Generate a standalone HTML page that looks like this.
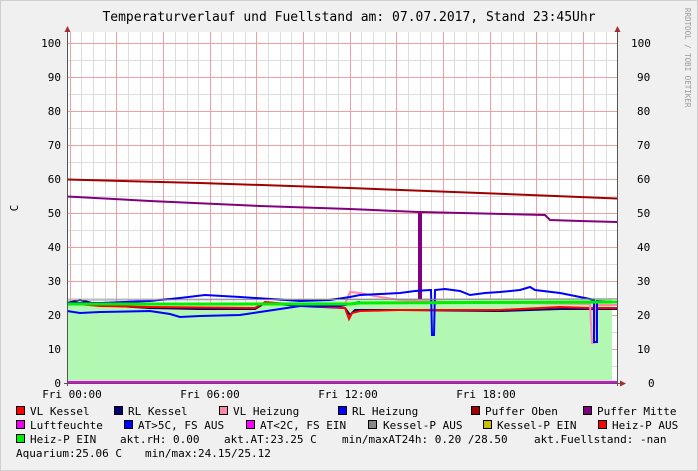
<!DOCTYPE html>
<html><head><meta charset="utf-8"><style>
body{margin:0;width:698px;height:471px;overflow:hidden;background:#f0f0f0;}
svg{display:block;font-family:"DejaVu Sans Mono","Liberation Mono",monospace;}
text{white-space:pre;}
</style></head><body>
<svg width="698" height="471" viewBox="0 0 698 471" xmlns="http://www.w3.org/2000/svg" xml:space="preserve">
<rect x="0" y="0" width="698" height="471" fill="#f0f0f0"/>
<rect x="0.5" y="0.5" width="697" height="470" fill="none" stroke="#cfcfcf"/>
<rect x="67" y="32" width="550" height="351" fill="#ffffff"/>
<text x="349" y="21" font-size="13" text-anchor="middle" fill="#000">Temperaturverlauf und Fuellstand am: 07.07.2017, Stand 23:45Uhr</text>
<text transform="translate(685,8) rotate(90)" font-size="7.5" fill="#999">RRDTOOL / TOBI OETIKER</text>
<text transform="translate(18,208) rotate(-90)" font-size="11" text-anchor="middle">C</text>
<g stroke="#ddd" stroke-width="1">
<path d="M81.5 32V383M93.5 32V383M105.5 32V383M128.5 32V383M140.5 32V383M152.5 32V383M175.5 32V383M187.5 32V383M198.5 32V383M221.5 32V383M233.5 32V383M245.5 32V383M268.5 32V383M280.5 32V383M291.5 32V383M314.5 32V383M326.5 32V383M338.5 32V383M361.5 32V383M373.5 32V383M385.5 32V383M408.5 32V383M420.5 32V383M431.5 32V383M454.5 32V383M466.5 32V383M478.5 32V383M501.5 32V383M513.5 32V383M524.5 32V383M547.5 32V383M559.5 32V383M571.5 32V383M594.5 32V383M606.5 32V383"/>
<path d="M67 366.5H617M67 332.5H617M67 298.5H617M67 264.5H617M67 230.5H617M67 196.5H617M67 162.5H617M67 128.5H617M67 94.5H617M67 60.5H617"/>
</g>
<g stroke="#f0a0a0" stroke-width="1">
<path d="M70.5 32V383M116.5 32V383M163.5 32V383M210.5 32V383M256.5 32V383M303.5 32V383M350.5 32V383M396.5 32V383M443.5 32V383M490.5 32V383M536.5 32V383M583.5 32V383"/>
<path d="M67 349.5H617M67 315.5H617M67 281.5H617M67 247.5H617M67 213.5H617M67 179.5H617M67 145.5H617M67 111.5H617M67 77.5H617M67 43.5H617"/>
</g>
<polygon points="67,303 300,302 360,300 612,298 612,383 67,383" fill="#b2f8b2"/>
<polyline fill="none" stroke="#a00000" stroke-width="2" points="67,179.5 200,183 350,188 480,193 617,198.5"/>
<polyline fill="none" stroke="#800080" stroke-width="2" points="67,196.5 150,201 260,206 350,209 418,212 419,212 419,298 421,298 421,212 545,215 550,220 580,221 617,222"/>
<polyline fill="none" stroke="#000070" stroke-width="2" points="67,303 80,300 100,305 150,308 200,309 255,309 265,303 300,306 345,308 350,315 355,310 400,310 500,311 560,309 617,309"/>
<polyline fill="none" stroke="#ff0000" stroke-width="2" points="67,303 100,306 150,307 255,308 265,302 300,305 345,308 349,319 352,313 360,311 400,310 500,310 560,307 590,308 617,308"/>
<polyline fill="none" stroke="#ff88aa" stroke-width="2" points="345,304 350,292 360,293 380,297 400,300 450,302 590,304 592,343 594,343 596,305 617,305"/>
<polyline fill="none" stroke="#0000ff" stroke-width="2" points="67,311 80,313 100,312 150,311 170,314 180,317 200,316 240,315 260,312 280,309 300,306 340,306 360,302"/>
<polyline fill="none" stroke="#0000ff" stroke-width="2" points="67,303 100,303 150,301 180,298 205,295 240,297 300,301 330,300 350,297 360,295 380,294 400,293 415,291 430,290 431,290 432,335 434,335 435,290 445,289 460,291 470,295 485,293 500,292 520,290 530,287 535,290 560,293 580,297 590,299 594,300 594,342 597,342 597,301 617,302"/>
<polyline fill="none" stroke="#00ee00" stroke-width="3" points="67,304 350,304 360,303 617,302"/>
<polyline fill="none" stroke="#888" stroke-width="1" points="67,300 617,299"/>
<line x1="67" y1="382" x2="617" y2="382" stroke="#ee00ee" stroke-width="2"/>
<line x1="67.5" y1="30" x2="67.5" y2="386" stroke="#555"/>
<line x1="617.5" y1="30" x2="617.5" y2="386" stroke="#555"/>
<line x1="64" y1="383.5" x2="622" y2="383.5" stroke="#555"/>
<polygon points="67.5,26 64.5,32 70.5,32" fill="#a03030"/>
<polygon points="617.5,26 614.5,32 620.5,32" fill="#a03030"/>
<polygon points="626,383.5 620,380.5 620,386.5" fill="#a03030"/>
<g font-size="11" fill="#000" text-anchor="end">
<text x="61" y="387">0</text><text x="61" y="353">10</text><text x="61" y="319">20</text><text x="61" y="285">30</text><text x="61" y="251">40</text><text x="61" y="217">50</text><text x="61" y="183">60</text><text x="61" y="149">70</text><text x="61" y="115">80</text><text x="61" y="81">90</text><text x="61" y="47">100</text>
</g>
<g font-size="11" fill="#000">
<text x="648" y="387">0</text><text x="637" y="353">10</text><text x="637" y="319">20</text><text x="637" y="285">30</text><text x="637" y="251">40</text><text x="637" y="217">50</text><text x="637" y="183">60</text><text x="637" y="149">70</text><text x="637" y="115">80</text><text x="637" y="81">90</text><text x="631" y="47">100</text>
</g>
<g font-size="11" fill="#000" text-anchor="middle">
<text x="72" y="398">Fri 00:00</text><text x="210" y="398">Fri 06:00</text><text x="348" y="398">Fri 12:00</text><text x="486" y="398">Fri 18:00</text>
</g>
<g font-size="11" fill="#000">
<rect x="16.5" y="406.5" width="8" height="8" fill="#ff0000" stroke="#000"/><text x="30" y="415">VL Kessel</text>
<rect x="114.5" y="406.5" width="8" height="8" fill="#000070" stroke="#000"/><text x="128" y="415">RL Kessel</text>
<rect x="219.5" y="406.5" width="8" height="8" fill="#ff88aa" stroke="#000"/><text x="233" y="415">VL Heizung</text>
<rect x="338.5" y="406.5" width="8" height="8" fill="#0000ff" stroke="#000"/><text x="352" y="415">RL Heizung</text>
<rect x="471.5" y="406.5" width="8" height="8" fill="#a00000" stroke="#000"/><text x="485" y="415">Puffer Oben</text>
<rect x="583.5" y="406.5" width="8" height="8" fill="#800080" stroke="#000"/><text x="597" y="415">Puffer Mitte</text>
<rect x="16.5" y="420.5" width="8" height="8" fill="#ee00ee" stroke="#000"/><text x="30" y="429">Luftfeuchte</text>
<rect x="124.5" y="420.5" width="8" height="8" fill="#0000ff" stroke="#000"/><text x="138" y="429">AT&gt;5C, FS AUS</text>
<rect x="246.5" y="420.5" width="8" height="8" fill="#ff00ff" stroke="#000"/><text x="260" y="429">AT&lt;2C, FS EIN</text>
<rect x="368.5" y="420.5" width="8" height="8" fill="#888888" stroke="#000"/><text x="383" y="429">Kessel-P AUS</text>
<rect x="483.5" y="420.5" width="8" height="8" fill="#c8c000" stroke="#000"/><text x="497" y="429">Kessel-P EIN</text>
<rect x="598.5" y="420.5" width="8" height="8" fill="#ff0000" stroke="#000"/><text x="612" y="429">Heiz-P AUS</text>
<rect x="16.5" y="434.5" width="8" height="8" fill="#00ee00" stroke="#000"/><text x="30" y="443">Heiz-P EIN</text>
<text x="120" y="443">akt.rH: 0.00</text>
<text x="224" y="443">akt.AT:23.25 C</text>
<text x="342" y="443">min/maxAT24h: 0.20 /28.50</text>
<text x="534" y="443">akt.Fuellstand: -nan</text>
<text x="16" y="457">Aquarium:25.06 C</text>
<text x="145" y="457">min/max:24.15/25.12</text>
</g>
</svg>
</body></html>
